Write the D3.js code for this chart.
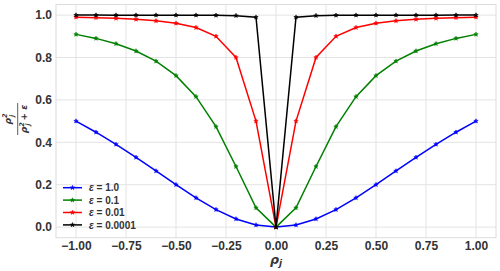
<!DOCTYPE html>
<html><head><meta charset="utf-8">
<script src="https://cdn.jsdelivr.net/npm/d3@7"></script>
<style>body{margin:0;background:#fff}svg{display:block}</style>
</head><body>
<svg id="c" width="500" height="271"></svg>
<script>
const rho = [-1.0,-0.9,-0.8,-0.7,-0.6,-0.5,-0.4,-0.3,-0.2,-0.1,0.0,0.1,0.2,0.3,0.4,0.5,0.6,0.7,0.8,0.9,1.0];
const eps1 = [0.5,0.4475,0.3902,0.3289,0.2647,0.2,0.1379,0.0826,0.0385,0.0099,0,0.0099,0.0385,0.0826,0.1379,0.2,0.2647,0.3289,0.3902,0.4475,0.5];
const eps01 = [0.9091,0.8901,0.8649,0.8305,0.7826,0.7143,0.6154,0.4737,0.2857,0.0909,0,0.0909,0.2857,0.4737,0.6154,0.7143,0.7826,0.8305,0.8649,0.8901,0.9091];
const eps001 = [0.9901,0.9878,0.9846,0.98,0.973,0.9615,0.9412,0.9,0.8,0.5,0,0.5,0.8,0.9,0.9412,0.9615,0.973,0.98,0.9846,0.9878,0.9901];
const eps00001 = [0.9999,0.9999,0.9998,0.9998,0.9997,0.9996,0.9994,0.9989,0.9975,0.9901,0,0.9901,0.9975,0.9989,0.9994,0.9996,0.9997,0.9998,0.9998,0.9999,0.9999];
const seriesNames = ["1.0","0.1","0.01","0.0001"];
const seriesColors = ["#0000ff","#008000","#ff0000","#000000"];
const xTicks = [-1.0,-0.75,-0.5,-0.25,0,0.25,0.5,0.75,1.0];
const yTicks = [0,0.2,0.4,0.6,0.8,1.0];

const svg = d3.select("#c");
const L=56, R=496, T=4.5, B=237.7;
const x = d3.scaleLinear().domain([-1.1,1.1]).range([L,R]);
const y = d3.scaleLinear().domain([-0.05,1.05]).range([B,T]);
const font = "'Liberation Sans', Arial, sans-serif";

// grid
const g = svg.append("g");
g.selectAll(".gx").data(xTicks).enter().append("line")
  .attr("x1",d=>x(d)).attr("x2",d=>x(d)).attr("y1",T).attr("y2",B)
  .attr("stroke","#e3e3e3").attr("stroke-width",1);
g.selectAll(".gy").data(yTicks).enter().append("line")
  .attr("y1",d=>y(d)).attr("y2",d=>y(d)).attr("x1",L).attr("x2",R)
  .attr("stroke","#e3e3e3").attr("stroke-width",1);
svg.append("rect").attr("x",L).attr("y",T).attr("width",R-L).attr("height",B-T)
  .attr("fill","none").attr("stroke","#dcdcdc").attr("stroke-width",1);

// axes labels
const xa = svg.append("g").attr("transform",`translate(0,${B})`)
  .call(d3.axisBottom(x).tickValues(xTicks).tickSize(0).tickPadding(4)
    .tickFormat(d=>d3.format(".2f")(d).replace("-","\u2212")));
xa.select(".domain").remove();
xa.selectAll("text").attr("font-family",font).attr("font-size",12).attr("font-weight","bold").attr("fill","#333");
const ya = svg.append("g").attr("transform",`translate(${L},0)`)
  .call(d3.axisLeft(y).tickValues(yTicks).tickSize(0).tickPadding(4).tickFormat(d3.format(".1f")));
ya.select(".domain").remove();
ya.selectAll("text").attr("font-family",font).attr("font-size",12).attr("font-weight","bold").attr("fill","#333");

// lines
const allSeries = [eps1,eps01,eps001,eps00001];
const line = d3.line().x((d,i)=>x(rho[i])).y(d=>y(d));
const star = d3.symbol().type(d3.symbolStar).size(6);
allSeries.forEach((s,k)=>{
  svg.append("path").datum(s).attr("d",line).attr("fill","none")
    .attr("stroke",seriesColors[k]).attr("stroke-width",1.5);
  svg.selectAll(null).data(s).enter().append("path")
    .attr("d",star).attr("transform",(d,i)=>`translate(${x(rho[i])},${y(d)})`)
    .attr("fill",seriesColors[k]).attr("stroke",seriesColors[k]).attr("stroke-width",0.6);
});

// legend
const lg = svg.append("g");
const ly0 = 187.7, ldy = 12.4;
seriesNames.forEach((n,k)=>{
  const yy = ly0 + k*ldy;
  lg.append("line").attr("x1",63).attr("x2",82).attr("y1",yy).attr("y2",yy)
    .attr("stroke",seriesColors[k]).attr("stroke-width",1.5);
  lg.append("path").attr("d",star).attr("transform",`translate(72.5,${yy})`)
    .attr("fill",seriesColors[k]).attr("stroke",seriesColors[k]).attr("stroke-width",0.6);
  const t = lg.append("text").attr("x",89).attr("y",yy+3.6)
    .attr("font-family",font).attr("font-size",10).attr("font-weight","bold").attr("fill","#333");
  t.append("tspan").attr("font-style","italic").text("ε");
  t.append("tspan").text(" = " + n);
});

// x label
const xl = svg.append("text").attr("x",276).attr("y",264).attr("text-anchor","middle")
  .attr("font-family","'DejaVu Sans', sans-serif").attr("font-size",12.5).attr("font-weight","bold").attr("font-style","italic").attr("fill","#333");
xl.append("tspan").text("ρ");
xl.append("tspan").attr("font-size",9).attr("dy",2).text("j");

// y label (fraction)
const yl = svg.append("g").attr("transform","translate(17.7,119) rotate(-90)");
const fs = 9;
const num = yl.append("text").attr("x",0).attr("y",-7).attr("text-anchor","middle")
  .attr("font-family","'DejaVu Sans', sans-serif").attr("font-size",fs).attr("font-weight","bold").attr("font-style","italic").attr("fill","#333");
num.append("tspan").text("ρ");
num.append("tspan").attr("font-size",6.5).attr("dy",-3.5).text("2");
num.append("tspan").attr("font-size",6.5).attr("dx",-3.5).attr("dy",6.5).text("j");
yl.append("line").attr("x1",-16).attr("x2",16).attr("y1",0).attr("y2",0).attr("stroke","#333").attr("stroke-width",0.8);
const den = yl.append("text").attr("x",0).attr("y",9.5).attr("text-anchor","middle")
  .attr("font-family","'DejaVu Sans', sans-serif").attr("font-size",fs).attr("font-weight","bold").attr("font-style","italic").attr("fill","#333");
den.append("tspan").text("ρ");
den.append("tspan").attr("font-size",6.5).attr("dy",-3.5).text("2");
den.append("tspan").attr("font-size",6.5).attr("dx",-3.5).attr("dy",6.5).text("j");
den.append("tspan").attr("dy",-3).text(" + ε");
</script>
</body></html>
